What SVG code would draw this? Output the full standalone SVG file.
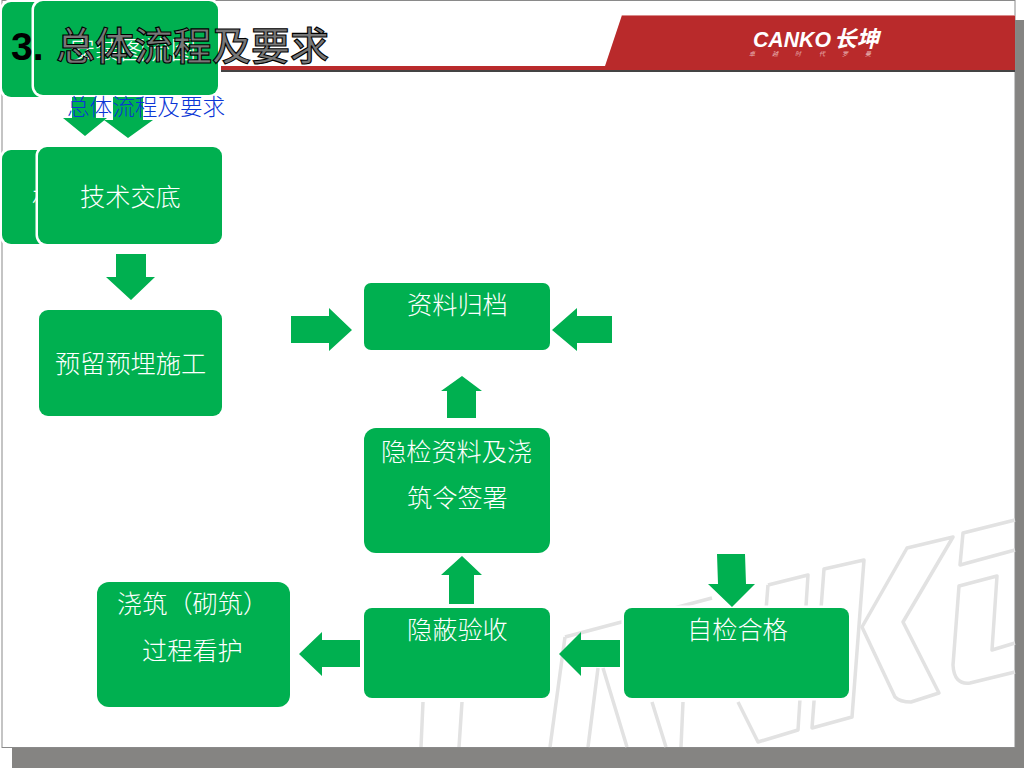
<svg xmlns="http://www.w3.org/2000/svg" width="1024" height="768" viewBox="0 0 1024 768">
<style>
.box{fill:#00b050;stroke:#fff;stroke-width:5;paint-order:stroke}
.arrow{fill:#00b050}
.wm{fill:none;stroke:#e2e2e2;stroke-width:3.5;stroke-linejoin:round}
text{font-family:"Noto Sans CJK SC","Liberation Sans",sans-serif}
.lbl{fill:#fff;font-size:25.2px;font-weight:300}
.tag{fill:#e9b9b9;font-size:6px;font-style:italic}
</style>
<rect x="12" y="20" width="1012" height="748" fill="#858482"/>
<rect x="2" y="0.5" width="1013" height="747" fill="#fff" stroke="#8a8a8a" stroke-width="1"/>
<g id="watermark">
<path class="wm" d="M565 637L712 598M565 637L550 747M598 668L588 747M603 668L627 747M652 702L666 747M683 702L681 747M423 702L421 747M462 702L459 747M768 585L808 575L798 730L758 742L738 702M768 585L766 610"/>
<path class="wm" d="M864 560L824 569L812 728L852 717Z"/>
<path class="wm" d="M907 548L953 537L903 622L939 693L911 702Q900 702 895 697L862 627Z"/>
<path class="wm" d="M1015 520L963 533L960 565L1015 550M1015 643L992 650L997 576L959 586L953 665Q954 685 970 683L1015 672"/>
</g>
<g id="banner">
<polygon points="221,66 605,66 622,15 1015,15 1015,70 221,70" fill="#b92a2b"/>
<rect x="622" y="15" width="393" height="1" fill="#d98a8a"/>
<rect x="221" y="70" width="794" height="2" fill="#444"/>
<text x="753" y="47" font-size="22" font-weight="700" font-style="italic" fill="#fff" style="font-family:'Liberation Sans',sans-serif" textLength="78" lengthAdjust="spacingAndGlyphs">CANKO</text>
<text x="834" y="47" font-size="22.5" font-weight="700" font-style="italic" fill="#fff">长坤</text>
<text class="tag" x="749" y="56">卓</text><text class="tag" x="772" y="56">越</text><text class="tag" x="795" y="56">时</text><text class="tag" x="819" y="56">代</text><text class="tag" x="842" y="56">罗</text><text class="tag" x="865" y="56">曼</text>
</g>
<g id="node-a"><rect class="box" x="2" y="2" width="185" height="95" rx="9"/></g>
<g id="node-b"><rect class="box" x="34" y="1" width="184" height="94" rx="9"/><text class="lbl" x="70" y="59">安装图流图</text></g>
<g id="node-c"><rect class="box" x="2" y="150" width="185" height="94" rx="9"/><text class="lbl" x="32" y="206">材</text></g>
<g id="node-d"><rect class="box" x="38" y="147" width="184" height="97" rx="9"/><text class="lbl" x="80" y="206">技术交底</text></g>
<g id="node-e"><rect class="box" x="39" y="310" width="183" height="106" rx="9"/><text class="lbl" x="55" y="373">预留预埋施工</text></g>
<g id="node-f"><rect class="box" x="364" y="283" width="186" height="67" rx="7"/><text class="lbl" x="407" y="314">资料归档</text></g>
<g id="node-g"><rect class="box" x="364" y="428" width="186" height="125" rx="12"/><text class="lbl" x="381" y="461">隐检资料及浇</text><text class="lbl" x="407" y="507">筑令签署</text></g>
<g id="node-h"><rect class="box" x="364" y="608" width="186" height="90" rx="8"/><text class="lbl" x="407" y="639">隐蔽验收</text></g>
<g id="node-i"><rect class="box" x="624" y="608" width="225" height="90" rx="8"/><text class="lbl" x="687" y="639">自检合格</text></g>
<g id="node-j"><rect class="box" x="97" y="582" width="193" height="125" rx="12"/><text class="lbl" x="117" y="613">浇筑（砌筑）</text><text class="lbl" x="142" y="660">过程看护</text></g>
<g id="connectors">
<polygon class="arrow" points="72,97 96,97 96,118 107,118 85,136 63,118 72,118"/>
<polygon class="arrow" points="113,97 143,97 143,120 153,120 128,138 104,120 113,120"/>
<polygon class="arrow" points="116,254 146,254 146,277 155,277 131,300 106,277 116,277"/>
<polygon class="arrow" points="291,316 329,316 329,308 352,330 329,351 329,343 291,343"/>
<polygon class="arrow" points="612,316 577,316 577,308 552,330 577,351 577,343 612,343"/>
<polygon class="arrow" points="447,418 476,418 476,391 482,391 462,376 441,391 447,391"/>
<polygon class="arrow" points="449,604 474,604 474,575 482,575 462,556 441,575 449,575"/>
<polygon class="arrow" points="717,554 745,554 746,584 755,584 732,607 708,584 718,584"/>
<polygon class="arrow" points="620,640 581,640 581,632 559,654 581,676 581,667 620,667"/>
<polygon class="arrow" points="360,640 322,640 322,632 299,654 322,676 322,667 360,667"/>
</g>
<g id="title">
<text x="11" y="60" font-size="39" font-weight="700" fill="#000" style="font-family:'Liberation Sans',sans-serif">3.</text>
<text x="56" y="60" font-size="39" font-weight="500" fill="#777" stroke="#000" stroke-width="1.1">总体流程及要求</text>
<text x="67" y="115" font-size="22.6" fill="#0a35d6" font-weight="300">总体流程及要求</text>
</g>
</svg>
